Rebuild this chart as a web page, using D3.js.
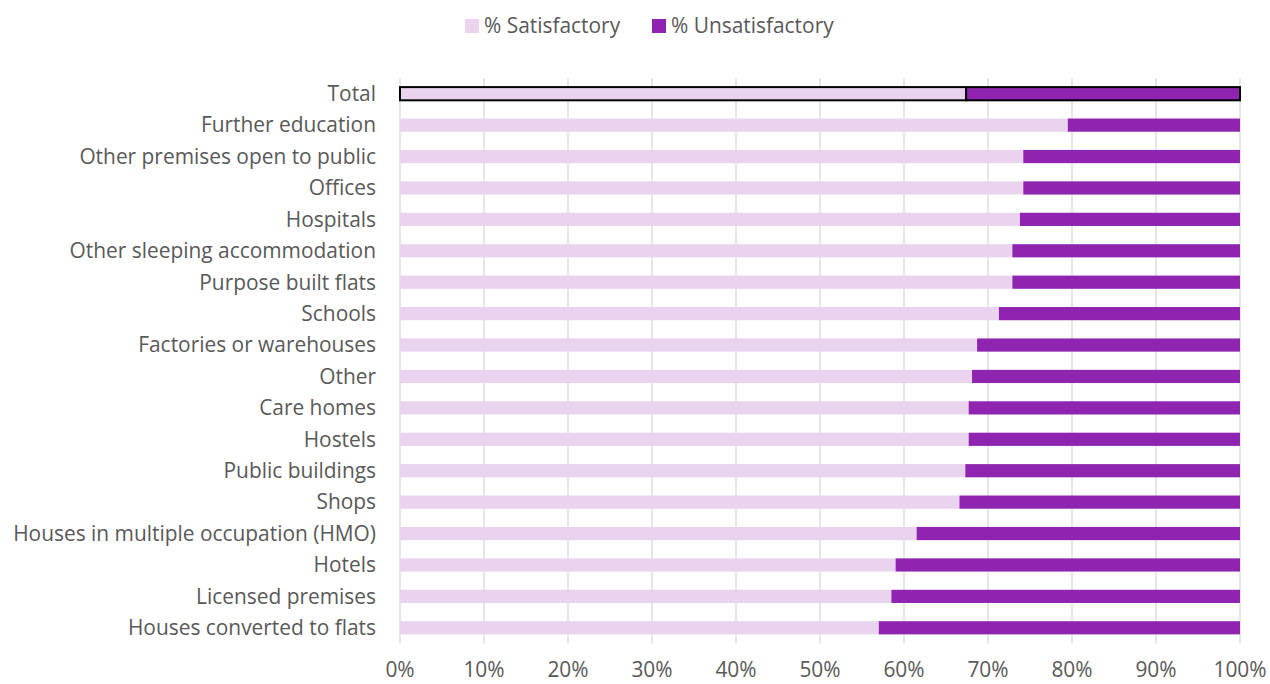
<!DOCTYPE html>
<html>
<head>
<meta charset="utf-8">
<script src="https://cdn.jsdelivr.net/npm/d3@7"></script>
<style>
  body { margin: 0; background: #fff; }
  text { font-family: "Open Sans", "Liberation Sans", sans-serif; fill: #595959; }
</style>
</head>
<body>
<svg id="chart" width="1270" height="684"></svg>
<script>
// categories, top to bottom
var categories = [
  "Total", "Further education", "Other premises open to public", "Offices",
  "Hospitals", "Other sleeping accommodation", "Purpose built flats", "Schools",
  "Factories or warehouses", "Other", "Care homes", "Hostels",
  "Public buildings", "Shops", "Houses in multiple occupation (HMO)", "Hotels",
  "Licensed premises", "Houses converted to flats"
];

// % satisfactory (unsatisfactory is the rest)
var satisfactory = [
  67.4, 79.5, 74.2, 74.2, 73.8, 72.9, 72.9, 71.3, 68.7,
  68.1, 67.7, 67.7, 67.3, 66.6, 61.5, 59.0, 58.5, 57.0
];
var unsatisfactory = satisfactory.map(function (v) { return 100 - v; });

var seriesNames = ["% Satisfactory", "% Unsatisfactory"];
var colors = ["#E9D3EF", "#8E24AF"];
var xTicks = [0, 10, 20, 30, 40, 50, 60, 70, 80, 90, 100];

var svg = d3.select("#chart");

var plotLeft = 400, plotRight = 1240, plotTop = 78, plotBottom = 643.5;
var fontSize = "20.9px";

var x = d3.scaleLinear().domain([0, 100]).range([plotLeft, plotRight]);
var y = d3.scaleBand().domain(categories).range([plotTop, plotBottom]).paddingInner(0.58).paddingOuter(0.29);

// grid
svg.append("g")
  .selectAll("line")
  .data(xTicks)
  .join("line")
  .attr("x1", function (d) { return x(d); })
  .attr("x2", function (d) { return x(d); })
  .attr("y1", plotTop)
  .attr("y2", plotBottom)
  .attr("stroke", "#d9d9d9")
  .attr("stroke-width", 1.3);

// bars
var rows = categories.map(function (c, i) {
  return { cat: c, sat: satisfactory[i], unsat: unsatisfactory[i] };
});

var bars = svg.append("g");

bars.selectAll("rect.sat")
  .data(rows)
  .join("rect")
  .attr("class", "sat")
  .attr("x", x(0))
  .attr("y", function (d) { return y(d.cat); })
  .attr("width", function (d) { return x(d.sat) - x(0); })
  .attr("height", y.bandwidth())
  .attr("fill", colors[0]);

bars.selectAll("rect.unsat")
  .data(rows)
  .join("rect")
  .attr("class", "unsat")
  .attr("x", function (d) { return x(d.sat); })
  .attr("y", function (d) { return y(d.cat); })
  .attr("width", function (d) { return x(100) - x(d.sat); })
  .attr("height", y.bandwidth())
  .attr("fill", colors[1]);

// outline on the Total row
bars.selectAll("rect")
  .filter(function (d) { return d.cat === "Total"; })
  .attr("stroke", "#000")
  .attr("stroke-width", 2);

// y labels
svg.append("g")
  .selectAll("text")
  .data(categories)
  .join("text")
  .attr("x", 376)
  .attr("y", function (d) { return y(d) + y.bandwidth() / 2; })
  .attr("dy", "0.35em")
  .attr("text-anchor", "end")
  .attr("font-size", fontSize)
  .text(function (d) { return d; });

// x tick labels
svg.append("g")
  .selectAll("text")
  .data(xTicks)
  .join("text")
  .attr("x", function (d) { return x(d); })
  .attr("y", 677)
  .attr("text-anchor", "middle")
  .attr("font-size", fontSize)
  .text(function (d) { return d + "%"; });

// legend
var legendX = [465, 652];
var legend = svg.append("g")
  .selectAll("g")
  .data(seriesNames)
  .join("g")
  .attr("transform", function (d, i) { return "translate(" + legendX[i] + ",19)"; });

legend.append("rect")
  .attr("width", 14)
  .attr("height", 14)
  .attr("fill", function (d, i) { return colors[i]; });

legend.append("text")
  .attr("x", 19)
  .attr("y", 7)
  .attr("dy", "0.35em")
  .attr("font-size", fontSize)
  .text(function (d) { return d; });
</script>
</body>
</html>
